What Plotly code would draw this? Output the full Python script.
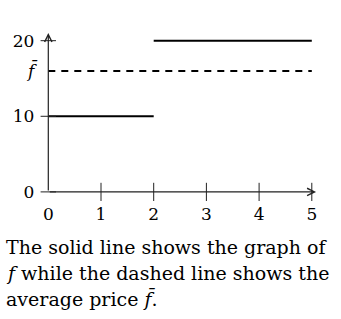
import plotly.graph_objects as go

# data
seg_x = [[0, 2], [2, 5]]
seg_y = [[10, 10], [20, 20]]
avg_x = [0, 5]
avg_y = [16, 16]
x_ticks = [0, 1, 2, 3, 4, 5]
y_ticks = [0, 10, 16, 20]
y_ticktext = ["0", "10", "<i>f\u0304</i>", "20"]
caption = ["The solid line shows the graph of",
           "<i>f</i> while the dashed line shows the",
           "average price <i>f\u0304</i>."]

XR = [-0.9165, 5.554]
YR = [-16.81, 25.38]
FONT = "DejaVu Serif, serif"

fig = go.Figure()
for xs, ys in zip(seg_x, seg_y):
    fig.add_trace(go.Scatter(x=xs, y=ys, mode="lines",
                             line=dict(color="black", width=2), showlegend=False, hoverinfo="skip"))
fig.add_trace(go.Scatter(x=avg_x, y=avg_y, mode="lines",
                         line=dict(color="black", width=2, dash="7px,6px"), showlegend=False, hoverinfo="skip"))
# tick marks crossing axes
fig.add_trace(go.Scatter(x=x_ticks[1:], y=[0]*5, mode="markers",
                         marker=dict(symbol="line-ns", size=13, line=dict(color="#222", width=1)),
                         showlegend=False, hoverinfo="skip"))
fig.add_trace(go.Scatter(x=[0, 0, 0], y=[0, 10, 20], mode="markers",
                         marker=dict(symbol="line-ew", size=11, line=dict(color="#222", width=1)),
                         showlegend=False, hoverinfo="skip"))

# axes with arrows
fig.add_annotation(x=5.08, y=0, ax=0, ay=0, xref="x", yref="y", axref="x", ayref="y",
                   showarrow=True, arrowhead=5, arrowsize=1.2, arrowwidth=1.2, arrowcolor="#222", text="")
fig.add_annotation(x=0, y=21.0, ax=0, ay=0, xref="x", yref="y", axref="x", ayref="y",
                   showarrow=True, arrowhead=5, arrowsize=1.2, arrowwidth=1.2, arrowcolor="#222", text="")

ypos0 = (0 - YR[0]) / (YR[1] - YR[0])
xpos0 = (0 - XR[0]) / (XR[1] - XR[0])

for i, line in enumerate(caption):
    fig.add_annotation(x=0.012, y=(319 - 247 - 25.5 * i) / 319, xref="paper", yref="paper",
                       xanchor="left", yanchor="middle", showarrow=False, text=line,
                       font=dict(family=FONT, size=19, color="black"))

fig.update_layout(
    width=341, height=319, margin=dict(l=0, r=0, t=0, b=0),
    paper_bgcolor="white", plot_bgcolor="white",
    font=dict(family=FONT, size=17, color="black"),
    xaxis=dict(range=XR, tickvals=x_ticks, ticks="", showgrid=False, zeroline=False,
               showline=False, anchor="free", position=ypos0, ticklabelstandoff=10,
               fixedrange=True),
    yaxis=dict(range=YR, tickvals=y_ticks, ticktext=y_ticktext, ticks="", showgrid=False,
               zeroline=False, showline=False, anchor="free", position=xpos0,
               ticklabelstandoff=14, fixedrange=True),
)
fig.write_html("out.html")
